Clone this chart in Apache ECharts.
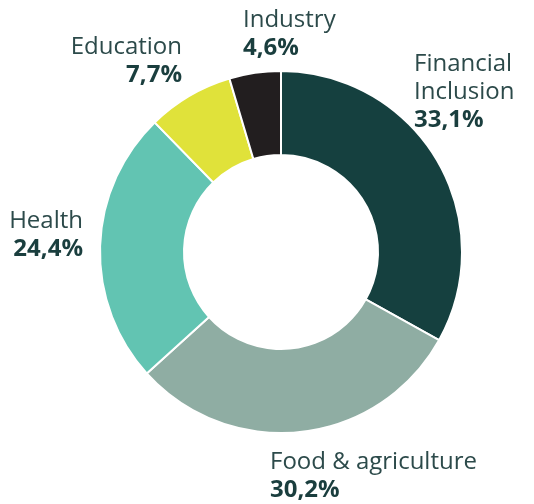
<!DOCTYPE html>
<html>
<head>
<meta charset="utf-8">
<style>
  html, body { margin: 0; padding: 0; background: #ffffff; }
  #chart { width: 534px; height: 504px; }
</style>
<script src="https://cdn.jsdelivr.net/npm/echarts@6/dist/echarts.min.js"></script>
</head>
<body>
<div id="chart"></div>
<script>
// Sector shares (%), clockwise from 12 o'clock
const sectors = ['Financial\nInclusion', 'Food & agriculture', 'Health', 'Education', 'Industry'];
const shares = [33.1, 30.2, 24.4, 7.7, 4.6];
const colors = ['#15403f', '#8fada3', '#62c4b2', '#e0e23a', '#221e1f'];

// Label anchor points (top edge of each label block) and alignment
const labelSpots = [
  { x: 414, y: 50, align: 'left' },
  { x: 270, y: 448, align: 'left' },
  { x: 83, y: 207, align: 'right' },
  { x: 182, y: 33, align: 'right' },
  { x: 243, y: 6, align: 'left' }
];

const chart = echarts.init(document.getElementById('chart'), null, { renderer: 'canvas' });

const fontFamily = '"Open Sans", "Noto Sans", sans-serif';

chart.setOption({
  animation: false,
  series: [{
    type: 'pie',
    center: [281, 252],
    radius: [97, 181],
    startAngle: 90,
    clockwise: true,
    data: sectors.map((name, i) => ({
      name: name,
      value: shares[i],
      itemStyle: { color: colors[i] },
      label: { align: labelSpots[i].align }
    })),
    itemStyle: { borderColor: '#ffffff', borderWidth: 2 },
    labelLine: { show: false },
    label: {
      show: true,
      position: 'outside',
      overflow: 'none',
      formatter: p => '{n|' + p.name + '}\n{v|' + p.value.toFixed(1).replace('.', ',') + '%}',
      rich: {
        n: { fontFamily: fontFamily, fontSize: 24, fontWeight: 400, color: '#2c4a4a', lineHeight: 28 },
        v: { fontFamily: fontFamily, fontSize: 24, fontWeight: 700, color: '#1a3e3e', lineHeight: 28 }
      }
    },
    labelLayout: function (params) {
      const s = labelSpots[params.dataIndex];
      return { x: s.x, y: s.y, align: s.align, verticalAlign: 'top', hideOverlap: false };
    }
  }]
});
</script>
</body>
</html>
